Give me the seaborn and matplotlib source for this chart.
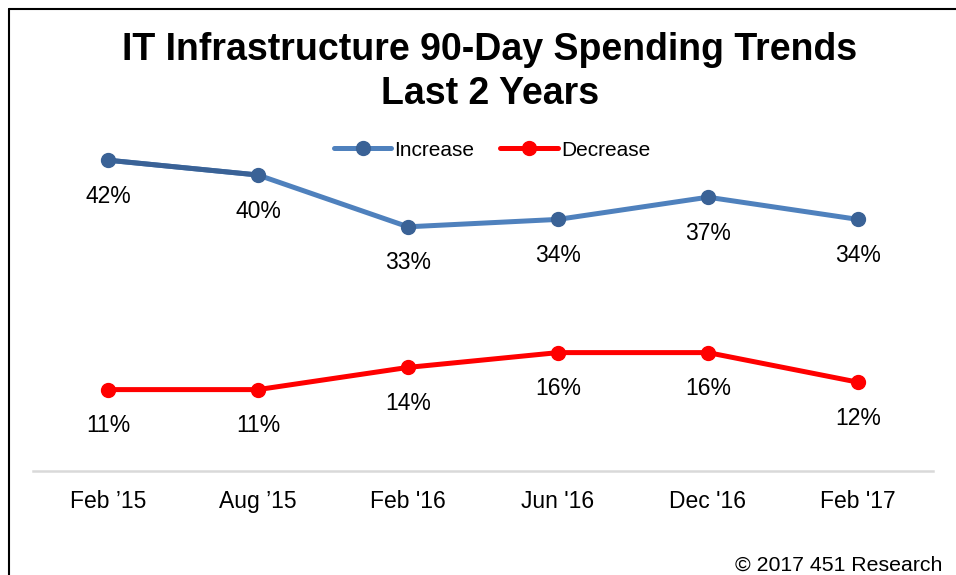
import matplotlib
matplotlib.use("Agg")
import matplotlib.pyplot as plt
from matplotlib.lines import Line2D
import seaborn as sns
import pandas as pd

# Survey periods and share of respondents (%)
periods = ["Feb \u201915", "Aug \u201915", "Feb '16", "Jun '16", "Dec '16", "Feb '17"]
increase = [42, 40, 33, 34, 37, 34]
decrease = [11, 11, 14, 16, 16, 12]
series_names = ["Increase", "Decrease"]

BLUE_LINE = "#4F81BD"
BLUE_DARK = "#3A6296"
RED = "#FF0000"

sns.set_theme(style="white")
plt.rcParams["font.family"] = ["Liberation Sans", "DejaVu Sans"]
plt.rcParams["text.color"] = "black"
plt.rcParams["xtick.color"] = "black"

df = pd.DataFrame({
    "period": periods * 2,
    "x": list(range(len(periods))) * 2,
    "value": increase + decrease,
    "series": [series_names[0]] * len(periods) + [series_names[1]] * len(periods),
})

fig = plt.figure(figsize=(9.56, 5.75), dpi=100)
ax = fig.add_axes([33 / 956, 1 - 471 / 575, 900 / 956, 333 / 575])

sns.lineplot(data=df, x="x", y="value", hue="series",
             palette={"Increase": BLUE_LINE, "Decrease": RED},
             linewidth=3.6, legend=False, ax=ax, zorder=2)

# Darker shading on the opening segment of the Increase line
ax.plot(range(2), increase[:2], color=BLUE_DARK, linewidth=3.6,
        solid_capstyle="round", zorder=3)

# Markers
ax.plot(range(len(periods)), increase, linestyle="none", marker="o",
        markersize=10, color=BLUE_DARK, zorder=4)
ax.plot(range(len(periods)), decrease, linestyle="none", marker="o",
        markersize=10, color=RED, zorder=4)

# Value labels under each point
for vals in (increase, decrease):
    for i, v in enumerate(vals):
        ax.annotate(f"{v}%", xy=(i, v), xytext=(0, -26),
                    textcoords="offset points", ha="center", va="center",
                    fontsize=16.5, color="black")

ax.set_xlim(-0.5, len(periods) - 0.5)
ax.set_ylim(0, 45)
ax.set_xticks(range(len(periods)))
ax.set_xticklabels(periods, fontsize=16.5, color="black")
ax.set_yticks([])
ax.set_xlabel("")
ax.set_ylabel("")
ax.tick_params(axis="x", length=0, pad=14)
for side in ("top", "right", "left"):
    ax.spines[side].set_visible(False)
ax.spines["bottom"].set_color("#D9D9D9")
ax.spines["bottom"].set_linewidth(1.8)

# Legend
handles = [
    Line2D([], [], color=BLUE_LINE, linewidth=3.6, marker="o",
           markersize=10, markerfacecolor=BLUE_DARK, markeredgecolor=BLUE_DARK),
    Line2D([], [], color=RED, linewidth=3.6, marker="o", markersize=10),
]
leg = fig.legend(handles, series_names, loc="center",
                 bbox_to_anchor=(492 / 956, 1 - 150 / 575),
                 ncol=2, frameon=False, fontsize=15, handlelength=2.75,
                 handletextpad=0.15, columnspacing=1.25, borderaxespad=0)
for t in leg.get_texts():
    t.set_color("black")

# Title
fig.text(490 / 956, 1 - 50 / 575, "IT Infrastructure 90-Day Spending Trends",
         ha="center", va="center", fontsize=27, fontweight="bold", color="black")
fig.text(490 / 956, 1 - 94 / 575, "Last 2 Years",
         ha="center", va="center", fontsize=27, fontweight="bold", color="black")

# Source note
fig.text(942 / 956, 1 - 565 / 575, "\u00a9 2017 451 Research",
         ha="right", va="center", fontsize=15.3, color="black")

# Frame along the top and left edges
fig.add_artist(Line2D([9 / 956, 1], [1 - 9 / 575, 1 - 9 / 575],
                      color="black", linewidth=1.5, transform=fig.transFigure))
fig.add_artist(Line2D([9 / 956, 9 / 956], [0, 1 - 9 / 575],
                      color="black", linewidth=1.5, transform=fig.transFigure))

fig.savefig("out.png", dpi=100, facecolor="white")
